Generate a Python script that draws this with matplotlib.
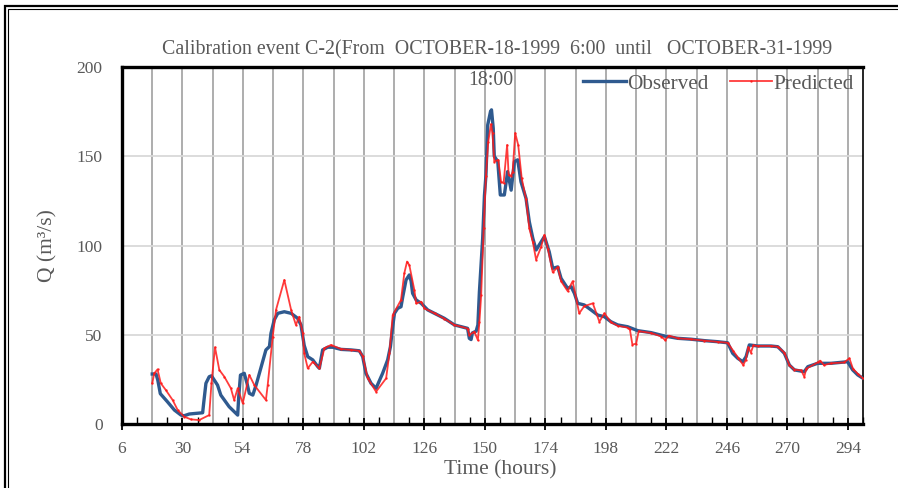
import matplotlib
matplotlib.use("Agg")
import matplotlib.pyplot as plt
from matplotlib.patches import Rectangle
from matplotlib.ticker import MultipleLocator

# ---------------- data ----------------
obs_t = [18, 19.5, 20.2, 21.2, 24, 26.8, 29.4, 30.6, 32.7, 38, 38.4, 39.3, 40.6, 41.5, 42.6,
         43.9, 45.2, 48.5, 51.9, 52.3, 53.0, 54.5, 55.6, 56.5, 57.9, 59.2, 63.1, 64.5, 65.1,
         66.4, 67.8, 70.4, 73.1, 75.7, 77.0, 78.3, 79.7, 81.7, 83.7, 84.3, 85.6, 87.6, 89.6,
         92.9, 96.9, 100.2, 101.5, 102.8, 104.8, 106.8, 109.4, 111.4, 112.5, 113.4, 114.1,
         115.4, 116.7, 117.4, 118.7, 120, 120.7, 121.3, 122.7, 124.7, 127.3, 130, 133.9,
         137.9, 143.1, 143.8, 144.5, 145.0, 146.5, 147.2, 147.8, 149.1, 149.8, 150.4, 151.1,
         152.2, 152.6, 153.3, 153.7, 155.1, 156.1, 157.7, 159.0, 160.4, 161.7, 163, 164.3,
         166.3, 167.6, 169.0, 170.3, 172.3, 173.6, 175.5, 176.9, 178.9, 180.2, 182.8, 184.2,
         185.5, 186.8, 189.4, 192.1, 194.8, 197.4, 200, 202.7, 206.6, 210.6, 215.9, 221.2,
         226.5, 231.8, 237.1, 242.4, 246.3, 248.3, 250.3, 252.3, 253.6, 254.9, 258.2, 263.5,
         266.2, 268.8, 270.8, 272.8, 276.7, 278.1, 282.0, 287.3, 293.9, 295.9, 297.9, 300]
obs_q = [28, 28, 24.6, 17, 12.5, 7.8, 5, 4.6, 5.6, 6.3, 11.6, 22.8, 26.5, 27, 24.6,
         21.8, 16.2, 9.7, 5, 15, 27.4, 28.4, 22.8, 17.2, 16.2, 21.8, 41.5, 43.4, 50.8,
         58.3, 62, 62.9, 62, 59.2, 55.5, 44, 37.7, 35.9, 32.1, 31.2, 41.5, 43, 43,
         41.8, 41.5, 41, 37.7, 28.4, 22.8, 20, 28.4, 35.9, 43.3, 54.5, 62,
         64.8, 65.7, 71.3, 80.7, 83.5, 80, 73.2, 69.5, 67.6, 63.9, 62, 59.2,
         55.5, 53.6, 48, 47.3, 51, 52, 55.5, 74, 104, 128, 139.4, 167.5,
         175, 176, 165.6, 150, 147, 128.3, 128.3, 141.4, 131, 147, 148, 135.7,
         126.4, 113.3, 104, 97.5, 102, 105, 96.5, 87.2, 88, 81.6, 76, 76.9,
         73.2, 67.6, 66.7, 63.9, 61, 60.1, 57.3, 55.5, 54.5, 52.3, 51.2, 49.3,
         48, 47.5, 46.7, 46.1, 45.5, 39.6, 36.8, 34.9, 37.7, 44.3, 43.7, 43.7,
         43.3, 39.6, 33, 30.3, 29.3, 32.1, 34, 34, 34.9, 30.3, 27.5, 25.6]

pred_t = [18, 18.8, 20.1, 21.4, 23.4, 26.1, 28.1, 30.7, 33.3, 36.6, 40.6, 41.5, 42.9, 44.6,
          46.6, 49.2, 50.5, 51.9, 53.9, 56.5, 58.5, 63.1, 63.8, 65.8, 67.1, 70.4, 73.1, 75.0,
          76.3, 77.7, 78.3, 79.7, 81.7, 84.3, 86.3, 88.9, 92.9, 96.9, 100.2, 101.5, 103.5,
          106.8, 110.8, 112.1, 113.4, 116.7, 118.0, 119.1, 120, 122, 122.7, 124.7, 126, 130,
          133.9, 137.9, 143.1, 143.8, 145.8, 147.2, 147.8, 148.5, 149.5, 150.4, 151.3, 152.4,
          153, 153.7, 155.3, 156.4, 157.4, 158.8, 159.4, 160.4, 161, 162, 163.2, 164.6, 166.3,
          167.6, 169, 170.3, 172.3, 173.6, 175, 176.9, 178.9, 180.2, 182.8, 184.8, 187.4,
          189.4, 192.8, 195.4, 197.4, 200, 202.7, 206.6, 207.5, 208.5, 210, 211, 215.9, 220,
          221.5, 223, 226.5, 231.8, 237.1, 242.4, 246.3, 248.5, 250.5, 252.5, 253.5, 254.5,
          255.5, 256.5, 258.2, 263.5, 266.2, 268.8, 270.8, 272.8, 275.5, 276.7, 277.5, 282,
          283, 284.5, 287.3, 292.5, 294.6, 296, 298, 300]
pred_q = [22.8, 28.4, 30.6, 22.8, 19, 13.4, 7.8, 4.1, 2.6, 2.2, 5, 22.8, 43, 30.3,
          26.5, 20, 13.4, 20, 11.6, 27.5, 21.8, 13.4, 21.8, 48.9, 63.9, 80.7, 63.9, 55.5,
          60.1, 51, 39.6, 31.2, 34.9, 31.2, 42.4, 44.3, 42, 41.5, 41, 38, 25.6,
          18.1, 25.6, 39.6, 61, 69.5, 84.4, 91, 89, 75, 67.6, 68.5, 64.8, 62,
          59, 55.5, 53.5, 49.9, 51.7, 47, 57, 72, 109.6, 139, 158, 168,
          162.8, 147, 148, 135.7, 135, 156.3, 139.5, 139, 141.4, 163, 156.3, 137.6, 126,
          109.6, 102, 92, 99.3, 106, 98, 85, 88, 80, 74.5, 80, 62,
          66, 67.6, 57.3, 62, 57, 55, 54, 53, 44.5, 45, 52, 51, 49,
          47, 49.5, 48, 47.5, 46.7, 46, 45.5, 41, 37, 33, 36, 43,
          40, 44, 43.7, 43.7, 43.3, 40, 33, 30.5, 30, 26.5, 31, 34.5,
          35.5, 33, 34, 34.5, 36.8, 31, 28, 25.5]

x_ticks = list(range(6, 295, 24))
y_ticks = [0, 50, 100, 150, 200]
title_line1 = "Calibration event C-2(From  OCTOBER-18-1999  6:00  until   OCTOBER-31-1999"
title_line2 = "18:00"
x_label = "Time (hours)"
y_label = "Q (m\u00b3/s)"
series_names = ["Observed", "Predicted"]

# ---------------- figure ----------------
W, H = 898, 488
fig = plt.figure(figsize=(W / 100, H / 100), dpi=100)
plt.rcParams['font.family'] = ['Liberation Serif', 'DejaVu Serif']
gray = '#595959'

# outer double frame
fig.patches.append(Rectangle((5 / W, -0.05), 1.0, 1 - 6 / H + 0.05, transform=fig.transFigure,
                             fill=False, edgecolor='black', linewidth=1.6, zorder=0))
fig.patches.append(Rectangle((8 / W, -0.05), 1.0, 1 - 9 / H + 0.05, transform=fig.transFigure,
                             fill=False, edgecolor='black', linewidth=0.8, zorder=0))

ax = fig.add_axes([122 / W, 1 - 424 / H, (863 - 122) / W, (424 - 67) / H])
ax.set_xlim(6, 300)
ax.set_ylim(0, 200)

ax.set_xticks(x_ticks)
ax.xaxis.set_minor_locator(MultipleLocator(12))
ax.set_yticks(y_ticks)

# grid
for xv in range(18, 300, 12):
    ax.axvline(xv, color='#ADADAD', linewidth=1.4, zorder=1)
for yv in y_ticks[1:-1]:
    ax.axhline(yv, color='#D9D9D9', linewidth=1.3, zorder=1)

ax.plot(obs_t, obs_q, color='#2F5A8F', linewidth=2.4, zorder=3, label=series_names[0])
ax.plot(pred_t, pred_q, color='#FF1A1A', linewidth=1.3, alpha=0.85, marker='.',
        markersize=1.5, zorder=4, label=series_names[1])

for side in ['left', 'bottom', 'top']:
    ax.spines[side].set_linewidth(2.4)
ax.spines['right'].set_linewidth(1.2)

ax.tick_params(axis='x', which='major', direction='inout', length=9, width=1.3,
               labelsize=12.5, labelcolor=gray, pad=8)
ax.tick_params(axis='x', which='minor', direction='in', length=5, width=1.0)
ax.tick_params(axis='y', which='major', direction='out', length=0, width=1.0,
               labelsize=12.5, labelcolor=gray, pad=14)

fig.text(500 / W, 1 - 470 / H, x_label, ha='center', va='center', fontsize=15.5, color=gray)
ax.set_ylabel(y_label, fontsize=15.5, color=gray, labelpad=14)

fig.text(497 / W, 1 - 50 / H, title_line1, ha='center', va='center', fontsize=14.3, color=gray)
fig.text(491 / W, 1 - 81 / H, title_line2, ha='center', va='center', fontsize=14.3, color=gray)

leg = ax.legend(loc='upper right', ncol=2, frameon=False, fontsize=15.3,
                bbox_to_anchor=(1.013, 1.035), handlelength=2.0, handletextpad=0.05,
                columnspacing=1.0, labelcolor=gray)

fig.savefig("out.png", dpi=100)
